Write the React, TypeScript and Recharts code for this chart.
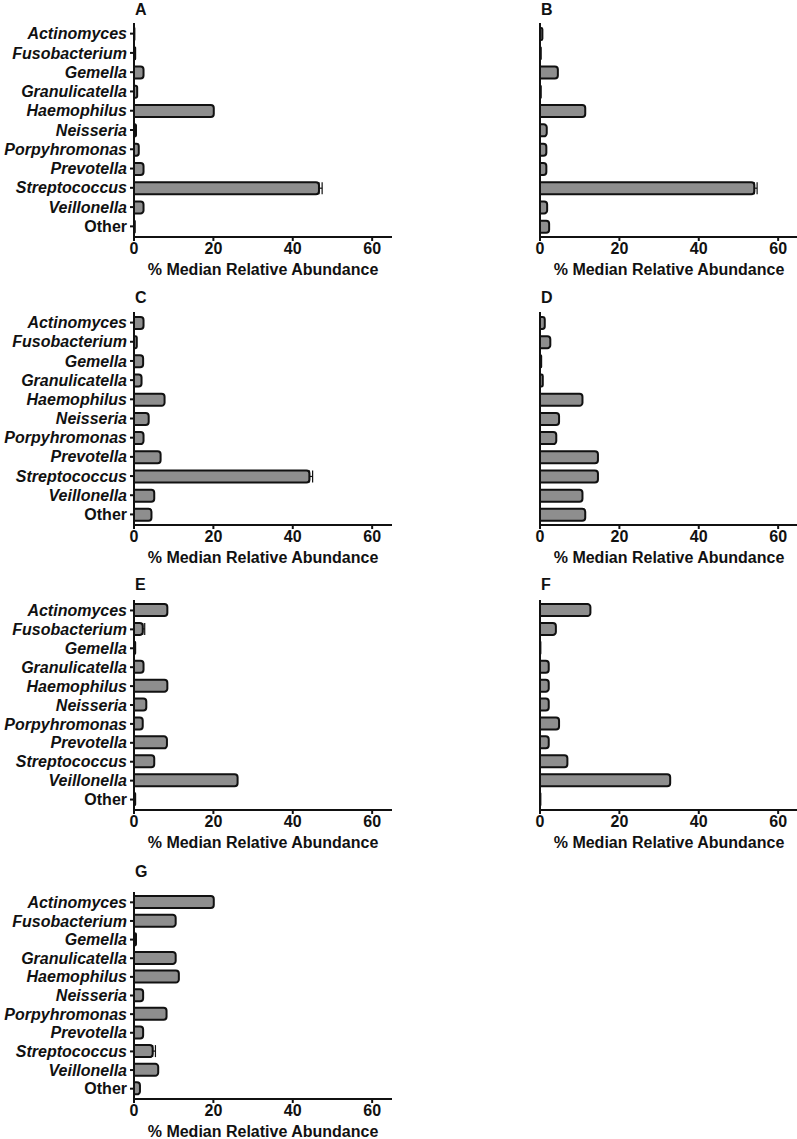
import React from 'react'
import { BarChart, Bar, XAxis, YAxis, ErrorBar, Label } from 'recharts'

const categories = [
  'Actinomyces',
  'Fusobacterium',
  'Gemella',
  'Granulicatella',
  'Haemophilus',
  'Neisseria',
  'Porpyhromonas',
  'Prevotella',
  'Streptococcus',
  'Veillonella',
  'Other',
]

const xTicks = [0, 20, 40, 60]

const valuesA = [0.1, 0.3, 2.4, 0.8, 20.1, 0.5, 1.2, 2.4, 46.6, 2.4, 0.2]
const errorsA = [0, 0, 0, 0, 0, 0, 0, 0, 0.8, 0, 0]
const valuesB = [0.6, 0.2, 4.5, 0.2, 11.4, 1.7, 1.6, 1.6, 54.0, 1.8, 2.3]
const errorsB = [0, 0, 0, 0, 0, 0, 0, 0, 0.7, 0, 0]
const valuesC = [2.4, 0.7, 2.3, 1.9, 7.7, 3.7, 2.4, 6.7, 44.2, 5.1, 4.4]
const errorsC = [0, 0, 0, 0, 0, 0, 0, 0, 0.8, 0, 0]
const valuesD = [1.2, 2.6, 0.3, 0.7, 10.7, 4.8, 4.1, 14.6, 14.6, 10.7, 11.4]
const errorsD = [0, 0, 0, 0, 0, 0, 0, 0, 0, 0, 0]
const valuesE = [8.4, 2.2, 0.3, 2.4, 8.4, 3.1, 2.2, 8.3, 5.1, 26.1, 0.3]
const errorsE = [0, 0.5, 0, 0, 0, 0, 0, 0, 0, 0, 0]
const valuesF = [12.7, 4.0, 0.1, 2.2, 2.2, 2.2, 4.8, 2.2, 6.9, 32.8, 0.1]
const errorsF = [0, 0, 0, 0, 0, 0, 0, 0, 0, 0, 0]
const valuesG = [20.1, 10.5, 0.5, 10.5, 11.3, 2.3, 8.2, 2.3, 4.7, 6.1, 1.5]
const errorsG = [0, 0, 0, 0, 0, 0, 0, 0, 0.7, 0, 0]

const FONT = '"Liberation Sans", Arial, sans-serif'
const INK = '#111'

// only the upper whisker shows past the bar end, so draw it one-sided
function buildRows(values: number[], errors: number[]) {
  return categories.map((name, i) => ({
    name,
    value: values[i],
    err: errors[i] > 0 ? [0, errors[i]] : null,
  }))
}

function CategoryTick(props: any) {
  const { x, y, payload } = props
  const plain = payload.value === 'Other'
  return (
    <text
      x={x}
      y={y}
      dy="0.35em"
      textAnchor="end"
      fill={INK}
      fontFamily={FONT}
      fontSize={16}
      fontWeight="bold"
      fontStyle={plain ? 'normal' : 'italic'}
    >
      {payload.value}
    </text>
  )
}

interface PanelProps {
  letter: string
  values: number[]
  errors: number[]
  left: number
  plotTop: number
  plotHeight: number
  titleTop: number
  showLabels: boolean
}

function Panel({ letter, values, errors, left, plotTop, plotHeight, titleTop, showLabels }: PanelProps) {
  const rows = buildRows(values, errors)
  const chartTop = plotTop - 23
  return (
    <>
      <div
        style={{
          position: 'absolute',
          left: left + 135,
          top: titleTop - 9,
          fontFamily: FONT,
          fontWeight: 'bold',
          fontSize: 16,
          lineHeight: '18px',
          color: INK,
        }}
      >
        {letter}
      </div>
      <div style={{ position: 'absolute', left, top: chartTop }}>
        <BarChart
          width={400}
          height={23 + plotHeight + 42}
          data={rows}
          layout="vertical"
          margin={{ top: 23, right: 8, bottom: 2, left: 0 }}
        >
          <XAxis
            type="number"
            domain={[0, 65]}
            ticks={xTicks}
            allowDataOverflow
            height={40}
            stroke={INK}
            strokeWidth={2}
            tickSize={4}
            tickMargin={2}
            tick={{ fill: INK, fontFamily: FONT, fontSize: 16, fontWeight: 'bold' }}
          >
            <Label
              value="% Median Relative Abundance"
              position="insideBottom"
              offset={2}
              style={{ fill: INK, fontFamily: FONT, fontSize: 16, fontWeight: 'bold' }}
            />
          </XAxis>
          <YAxis
            type="category"
            dataKey="name"
            width={134}
            stroke={INK}
            strokeWidth={2}
            padding={{ top: 1, bottom: 1 }}
            tickSize={showLabels ? 4 : 0}
            tickMargin={3}
            tickLine={showLabels}
            tick={showLabels ? <CategoryTick /> : false}
            interval={0}
          />
          <Bar
            dataKey="value"
            fill="#8e8e8e"
            stroke={INK}
            strokeWidth={2}
            barSize={12}
            radius={[0, 3, 3, 0]}
            isAnimationActive={false}
          >
            <ErrorBar dataKey="err" direction="x" width={6} stroke={INK} strokeWidth={1.2} />
          </Bar>
        </BarChart>
      </div>
    </>
  )
}

export default function App() {
  return (
    <div
      style={{
        position: 'absolute',
        left: 0,
        top: 0,
        width: 797,
        height: 1139,
        overflow: 'hidden',
        background: '#fff',
      }}
    >
      <Panel letter="A" values={valuesA} errors={errorsA} left={0} plotTop={23} plotHeight={214} titleTop={10} showLabels />
      <Panel letter="B" values={valuesB} errors={errorsB} left={406} plotTop={23} plotHeight={214} titleTop={10} showLabels={false} />
      <Panel letter="C" values={valuesC} errors={errorsC} left={0} plotTop={312} plotHeight={213} titleTop={298} showLabels />
      <Panel letter="D" values={valuesD} errors={errorsD} left={406} plotTop={312} plotHeight={213} titleTop={298} showLabels={false} />
      <Panel letter="E" values={valuesE} errors={errorsE} left={0} plotTop={600} plotHeight={210} titleTop={585} showLabels />
      <Panel letter="F" values={valuesF} errors={errorsF} left={406} plotTop={600} plotHeight={210} titleTop={585} showLabels={false} />
      <Panel letter="G" values={valuesG} errors={errorsG} left={0} plotTop={892} plotHeight={207} titleTop={872} showLabels />
    </div>
  )
}
